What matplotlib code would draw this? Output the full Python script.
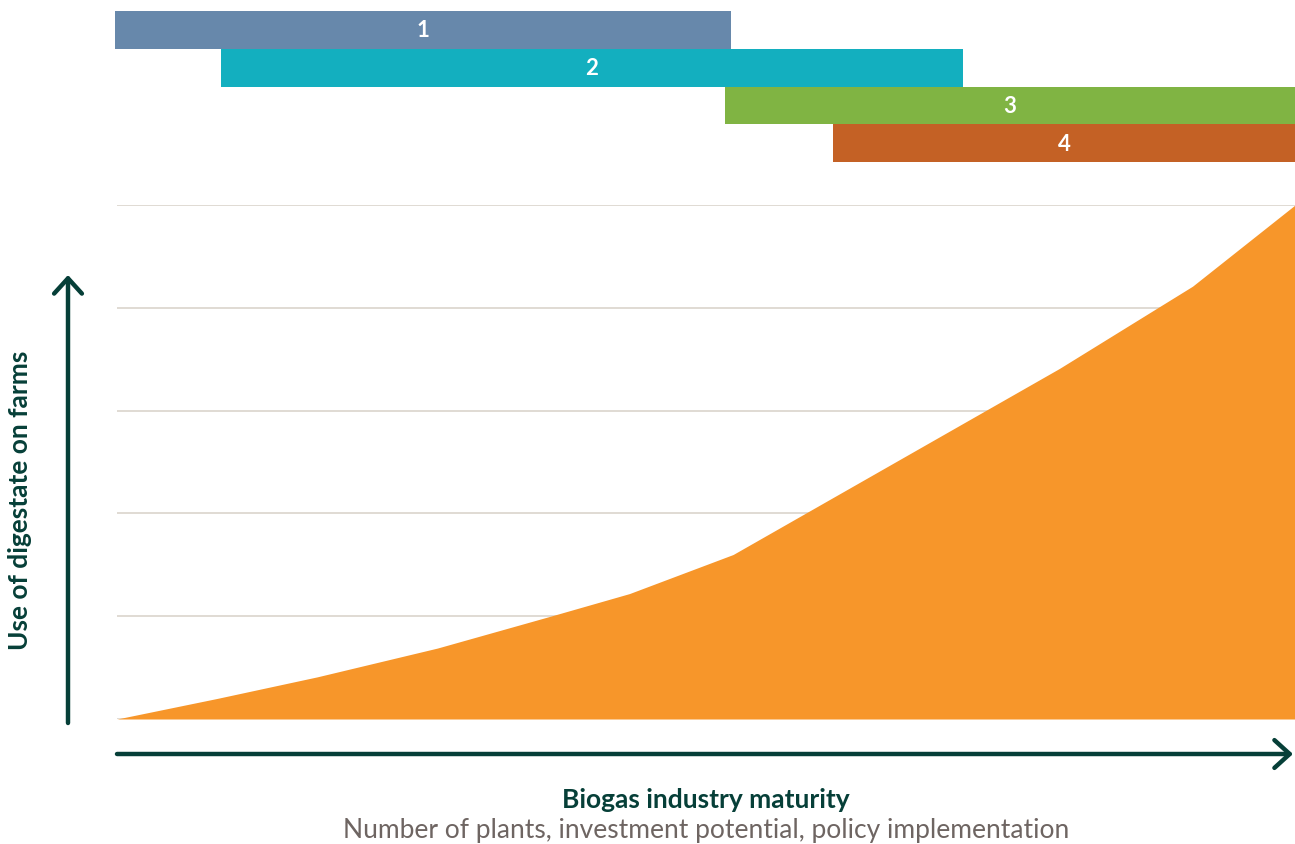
import numpy as np
import matplotlib
matplotlib.use("Agg")
import matplotlib.pyplot as plt

plt.rcParams['font.family'] = ['Lato', 'DejaVu Sans']

# curve: industry maturity (0-100) vs use of digestate (0-5 grid units)
maturity = [0, 8.5, 17, 27.2, 36.8, 43.5, 52.3, 80, 91.3, 100]
digestate_use = [0, 0.2, 0.41, 0.69, 1.0, 1.22, 1.6, 3.41, 4.21, 5.0]

# phase bars on top
phase_labels = ['1', '2', '3', '4']
phase_start = [-0.2, 8.8, 51.6, 60.8]
phase_end = [52.1, 71.8, 100, 100]
phase_colors = ['#6788ab', '#13afbf', '#80b443', '#c46125']

orange = '#f7962a'
dark = '#063f38'
grid_c = '#ddd8d0'

W, H = 1295, 845
fig = plt.figure(figsize=(W / 100, H / 100), dpi=100)

# main area chart
ax = fig.add_axes([117 / W, (H - 720) / H, 1178 / W, 514 / H])
for g in range(0, 6):
    ax.axhline(g, color=grid_c, lw=1.3, zorder=1)
ax.fill_between(maturity, digestate_use, 0, color=orange, lw=0, zorder=2)
ax.set_xlim(0, 100)
ax.set_ylim(0, 5)
ax.axis('off')

# phase bars
bx = fig.add_axes([117 / W, (H - 163) / H, 1178 / W, 151 / H])
ys = np.arange(len(phase_labels))[::-1]
for y, lab, s, e, c in zip(ys, phase_labels, phase_start, phase_end, phase_colors):
    bx.barh(y, e - s, left=s, height=1.0, color=c, clip_on=False)
    bx.text((s + e) / 2, y, lab, color='white', fontsize=16, fontweight='bold',
            ha='center', va='center')
bx.set_xlim(0, 100)
bx.set_ylim(-0.5, 3.5)
bx.axis('off')

# axis arrows
arrow = dict(arrowstyle='->,head_length=0.55,head_width=0.5', lw=3.2,
             color=dark, mutation_scale=20, shrinkA=0, shrinkB=0)
fig.add_artist(plt.Annotation('', xy=(1293, H - 755), xytext=(117, H - 755),
                              xycoords='figure pixels', textcoords='figure pixels',
                              arrowprops=arrow))
fig.add_artist(plt.Annotation('', xy=(68, H - 276), xytext=(68, H - 724),
                              xycoords='figure pixels', textcoords='figure pixels',
                              arrowprops=arrow))

fig.text(20 / W, (H - 500) / H, 'Use of digestate on farms', rotation=90,
         ha='center', va='center', fontsize=19, fontweight='bold', color=dark)
fig.text(706 / W, (H - 800) / H, 'Biogas industry maturity', ha='center',
         va='center', fontsize=19, fontweight='bold', color=dark)
fig.text(706 / W, (H - 831) / H, 'Number of plants, investment potential, policy implementation',
         ha='center', va='center', fontsize=19, color='#6e6562')

fig.savefig('out.png', dpi=100)
